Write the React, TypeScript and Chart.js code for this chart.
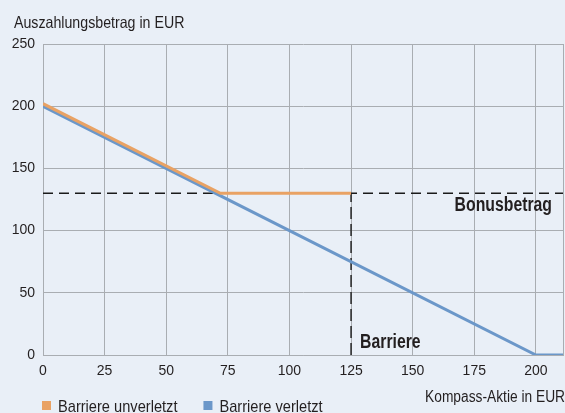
import React, { useEffect, useRef } from "react";
import { Chart, registerables } from "chart.js";

Chart.register(...registerables);

const xTickValues = [0, 25, 50, 75, 100, 125, 150, 175, 200];
const xMax = 211;
const yTickValues = [0, 50, 100, 150, 200, 250];

const unverletztX = [0, 72, 125];
const unverletztY = [202, 130, 130];
const verletztX = [0, 200, 211];
const verletztY = [200, 0, 0];

const bonusLevel = 130;
const barrierLevel = 125;

const seriesNames = ["Barriere unverletzt", "Barriere verletzt"];
const seriesColors = ["#e9a264", "#6b97c9"];

const titleText = "Auszahlungsbetrag in EUR";
const xTitleText = "Kompass-Aktie in EUR";
const bonusText = "Bonusbetrag";
const barrierText = "Barriere";

const FONT = '"Liberation Sans", Arial, sans-serif';
const TEXT = "#231f20";
const GRID = "#a9adb2";
const BG = "#e9eff7";
const SX = 0.86;
const SXB = 0.81;

function drawText(ctx: any, text: string, x: number, y: number, font: string, align: string, sx: number) {
  ctx.save();
  ctx.font = font;
  ctx.textAlign = align;
  ctx.textBaseline = "alphabetic";
  ctx.translate(x, y);
  ctx.scale(sx, 1);
  ctx.fillText(text, 0, 0);
  const w = ctx.measureText(text).width * sx;
  ctx.restore();
  return w;
}

const textPlugin = {
  id: "textPlugin",
  afterDraw(chart: any) {
    const ctx = chart.ctx;
    const xs = chart.scales.x;
    const ys = chart.scales.y;
    const area = chart.chartArea;
    ctx.save();
    ctx.fillStyle = TEXT;

    drawText(ctx, titleText, 14, 28, `16.5px ${FONT}`, "left", SX);
    drawText(ctx, xTitleText, 565, 402, `16px ${FONT}`, "right", SX);

    drawText(ctx, bonusText, area.right - 11, ys.getPixelForValue(bonusLevel) + 18, `bold 19.5px ${FONT}`, "right", SXB);
    drawText(ctx, barrierText, xs.getPixelForValue(barrierLevel) + 9, area.bottom - 7, `bold 19.5px ${FONT}`, "left", SXB);

    // legend
    let x = 42;
    seriesNames.forEach((name, i) => {
      ctx.fillStyle = seriesColors[i];
      ctx.fillRect(x, 401, 9, 9);
      ctx.fillStyle = TEXT;
      const w = drawText(ctx, name, x + 16, 412, `17px ${FONT}`, "left", SX);
      x += 16 + w + 26;
    });
    ctx.restore();
  },
};

export default function App() {
  const ref = useRef<HTMLCanvasElement | null>(null);
  useEffect(() => {
    if (!ref.current) return;
    const chart = new Chart(ref.current, {
      type: "line",
      data: {
        datasets: [
          {
            label: seriesNames[0],
            data: unverletztX.map((x, i) => ({ x, y: unverletztY[i] })),
            borderColor: seriesColors[0],
            backgroundColor: seriesColors[0],
            borderWidth: 3,
            pointRadius: 0,
            tension: 0,
          },
          {
            label: seriesNames[1],
            data: verletztX.map((x, i) => ({ x, y: verletztY[i] })),
            borderColor: seriesColors[1],
            backgroundColor: seriesColors[1],
            borderWidth: 3,
            pointRadius: 0,
            tension: 0,
          },
          {
            label: "bonus",
            data: [
              { x: 0, y: bonusLevel },
              { x: xMax, y: bonusLevel },
            ],
            borderColor: "#1a1a1a",
            borderWidth: 1.4,
            borderDash: [10, 6],
            pointRadius: 0,
          },
          {
            label: "barrier",
            data: [
              { x: barrierLevel, y: 0 },
              { x: barrierLevel, y: bonusLevel },
            ],
            borderColor: "#1a1a1a",
            borderWidth: 1.4,
            borderDash: [12, 5],
            pointRadius: 0,
          },
        ],
      },
      options: {
        animation: false,
        responsive: false,
        maintainAspectRatio: false,
        layout: { padding: { top: 44, right: 2, left: 0, bottom: 28 } },
        plugins: {
          legend: { display: false },
          title: { display: false },
          tooltip: { enabled: false },
        },
        scales: {
          x: {
            type: "linear",
            min: 0,
            max: xMax,
            afterBuildTicks: (scale: any) => {
              scale.ticks = [...xTickValues, xMax].map((v) => ({ value: v }));
            },
            afterFit: (scale: any) => {
              scale.height = 30;
              scale.paddingRight = 0;
              scale.paddingLeft = 0;
            },
            ticks: {
              padding: 8,
              color: TEXT,
              font: { family: FONT, size: 14 },
              maxRotation: 0,
              autoSkip: false,
              callback: (v: any) => (xTickValues.includes(Number(v)) ? String(v) : ""),
            },
            grid: { color: GRID, lineWidth: 1, drawTicks: false },
            border: { color: GRID, width: 1 },
          },
          y: {
            type: "linear",
            min: 0,
            max: 250,
            afterBuildTicks: (scale: any) => {
              scale.ticks = yTickValues.map((v) => ({ value: v }));
            },
            afterFit: (scale: any) => {
              scale.width = 43;
            },
            ticks: {
              padding: 8,
              color: TEXT,
              font: { family: FONT, size: 14 },
            },
            grid: { color: GRID, lineWidth: 1, drawTicks: false },
            border: { color: GRID, width: 1 },
          },
        },
      },
      plugins: [textPlugin],
    });
    return () => chart.destroy();
  }, []);

  return (
    <div style={{ position: "fixed", left: 0, top: 0, width: 565, height: 413, background: BG }}>
      <canvas ref={ref} width={565} height={413} style={{ display: "block" }} />
    </div>
  );
}
